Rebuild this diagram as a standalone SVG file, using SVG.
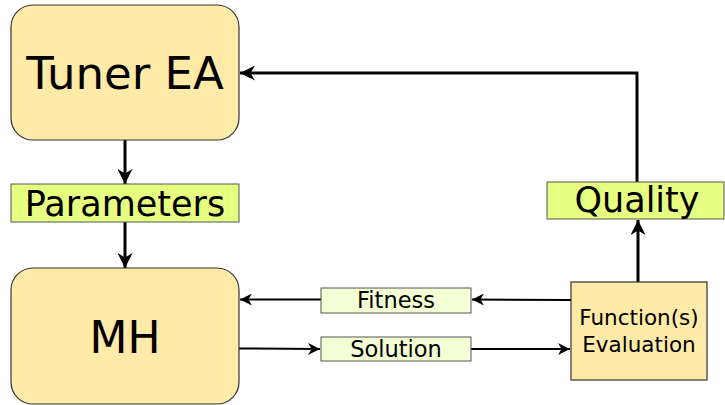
<svg xmlns="http://www.w3.org/2000/svg" width="725" height="405" viewBox="0 0 725 405">
<defs>
<style>
.node{fill:#ffeaa8;stroke:#333;stroke-width:1.2}
.lbl{fill:#e6ff80;stroke:#555;stroke-width:1}
.sm{fill:#f4ffd6;stroke:#555;stroke-width:1}
text{font-family:"DejaVu Sans",sans-serif;fill:#000;text-anchor:middle}
.thick{fill:none;stroke:#000;stroke-width:3}
.thin{fill:none;stroke:#000;stroke-width:2}
</style>
<marker id="ah" viewBox="0 0 10 10" refX="10" refY="5" markerWidth="5" markerHeight="5" markerUnits="strokeWidth" orient="auto">
<path d="M0,0 L10,5 L0,10 L3,5 z" fill="#000"/>
</marker>
<marker id="ah2" viewBox="0 0 10 10" refX="10" refY="5" markerWidth="7" markerHeight="6" markerUnits="strokeWidth" orient="auto">
<path d="M0,0 L10,5 L0,10 L3,5 z" fill="#000"/>
</marker>
</defs>
<g id="connectors">
<path class="thick" d="M125,140 V184" marker-end="url(#ah)"/>
<path class="thick" d="M125,222 V268" marker-end="url(#ah)"/>
<path class="thick" d="M638,282 V220" marker-end="url(#ah)"/>
<path class="thick" d="M637,182 V73 H240" marker-end="url(#ah)"/>
<path class="thin" d="M571,300 L472,299.5" marker-end="url(#ah2)"/>
<path class="thin" d="M321,299.5 H240" marker-end="url(#ah2)"/>
<path class="thin" d="M239,348.5 L320,349" marker-end="url(#ah2)"/>
<path class="thin" d="M471,349 H570" marker-end="url(#ah2)"/>
</g>
<g id="tuner">
<rect class="node" x="11" y="5" width="228" height="135" rx="22"/>
<text x="125" y="89" font-size="45">Tuner EA</text>
</g>
<g id="parameters">
<rect class="lbl" x="11" y="184" width="228" height="38"/>
<text x="125" y="216" font-size="35">Parameters</text>
</g>
<g id="mh">
<rect class="node" x="11" y="268" width="228" height="136" rx="22"/>
<text x="125" y="353" font-size="44">MH</text>
</g>
<g id="fitness">
<rect class="sm" x="321" y="288" width="150" height="25"/>
<text x="396" y="308" font-size="22.5">Fitness</text>
</g>
<g id="solution">
<rect class="sm" x="321" y="337" width="150" height="24"/>
<text x="396" y="357" font-size="22.5">Solution</text>
</g>
<g id="function">
<rect class="node" x="571" y="282" width="136" height="98"/>
<text x="639" y="325" font-size="21.5">Function(s)</text>
<text x="639" y="352" font-size="21.5">Evaluation</text>
</g>
<g id="quality">
<rect class="lbl" x="547" y="182" width="177" height="37"/>
<text x="637" y="212" font-size="35">Quality</text>
</g>
</svg>
